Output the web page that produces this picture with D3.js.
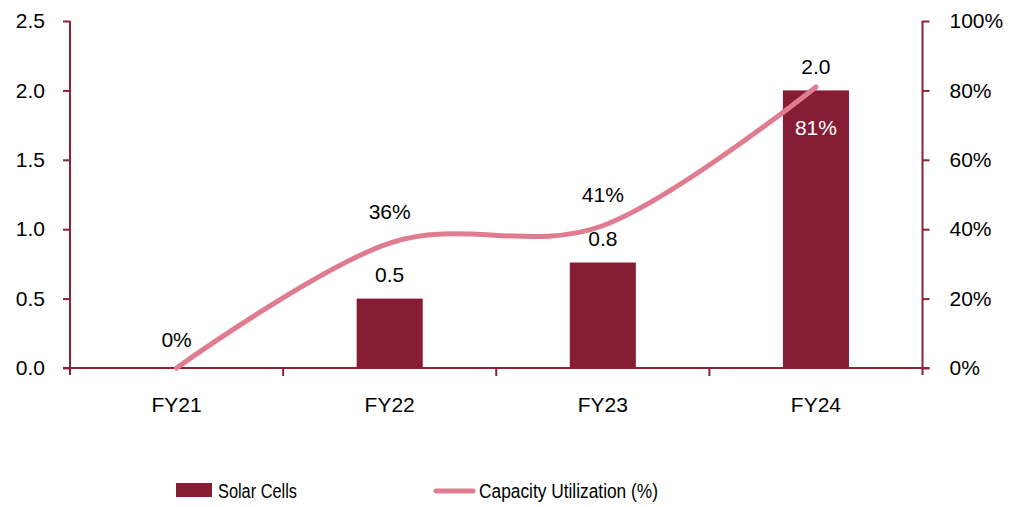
<!DOCTYPE html>
<html><head><meta charset="utf-8">
<script src="https://cdn.jsdelivr.net/npm/d3@7"></script>
<style>
html,body{margin:0;padding:0;background:#fff;}
svg{display:block;font-family:"Liberation Sans",Arial,sans-serif;}
</style></head>
<body>
<svg id="chart" width="1011" height="507"></svg>
<script>
const categories = ["FY21","FY22","FY23","FY24"];
const solarCells = [0, 0.5, 0.76, 2.0];
const solarLabels = ["", "0.5", "0.8", "2.0"];
const utilization = [0, 0.36, 0.41, 0.81];
const utilLabels = ["0%","36%","41%","81%"];
const leftTicks = [0, 0.5, 1.0, 1.5, 2.0, 2.5];
const rightTicks = [0, 0.2, 0.4, 0.6, 0.8, 1.0];
const legendLabels = ["Solar Cells", "Capacity Utilization (%)"];

const barColor = "#861D35";
const lineColor = "#E07C90";
const axisColor = "#8A2238";

const svg = d3.select("#chart");
const mLeft = 70, mRight = 922.5, mTop = 21, mBottom = 368;

const x = d3.scaleBand().domain(categories).range([mLeft, mRight]).paddingInner(0).paddingOuter(0);
const yL = d3.scaleLinear().domain([0, 2.5]).range([mBottom, mTop]);
const yR = d3.scaleLinear().domain([0, 1]).range([mBottom, mTop]);

const fs = 21;
const ff = "Liberation Sans, Arial, sans-serif";

// Left axis
const gL = svg.append("g").attr("transform", `translate(${mLeft},0)`)
  .call(d3.axisLeft(yL).tickValues(leftTicks).tickFormat(d3.format(".1f")).tickSize(7).tickPadding(18));
// Right axis
const gR = svg.append("g").attr("transform", `translate(${mRight},0)`)
  .call(d3.axisRight(yR).tickValues(rightTicks).tickFormat(d3.format(".0%")).tickSize(7).tickPadding(20));
[gL, gR].forEach(g => {
  g.select(".domain").attr("stroke", axisColor).attr("stroke-width", 2).attr("d", `M0,${mTop}V${mBottom + 7}`);
  g.selectAll(".tick line").attr("stroke", axisColor).attr("stroke-width", 2);
  g.selectAll(".tick text").attr("fill", "#000").attr("font-size", fs).attr("font-family", ff);
});

// Bottom axis
const gB = svg.append("g").attr("transform", `translate(0,${mBottom})`)
  .call(d3.axisBottom(x).tickSize(0).tickPadding(29));
gB.select(".domain").attr("stroke", axisColor).attr("stroke-width", 2).attr("d", `M${mLeft - 7},0H${mRight + 7}`);
gB.selectAll(".tick text").attr("fill", "#000").attr("font-size", fs).attr("font-family", ff);
// category boundary ticks
const bounds = categories.slice(1).map(c => x(c));
gB.selectAll(".bt").data(bounds).enter().append("line")
  .attr("x1", d => d).attr("x2", d => d).attr("y1", 0).attr("y2", 8)
  .attr("stroke", axisColor).attr("stroke-width", 2);

// Bars
const bw = x.bandwidth() * 0.31;
svg.append("g").selectAll("rect").data(solarCells).enter().append("rect")
  .attr("x", (d, i) => x(categories[i]) + x.bandwidth() / 2 - bw / 2)
  .attr("width", bw)
  .attr("y", d => yL(d))
  .attr("height", d => mBottom - yL(d))
  .attr("fill", barColor);

// Bar labels
svg.append("g").selectAll("text").data(solarCells).enter().append("text")
  .attr("x", (d, i) => x(categories[i]) + x.bandwidth() / 2)
  .attr("y", d => yL(d) - 24)
  .attr("dy", "0.35em")
  .attr("text-anchor", "middle").attr("font-size", fs).attr("fill", "#000")
  .text((d, i) => solarLabels[i]);

// Line
const pts = utilization.map((v, i) => [x(categories[i]) + x.bandwidth() / 2, yR(v)]);
svg.append("path").datum(pts)
  .attr("d", d3.line().curve(d3.curveCatmullRom.alpha(0)))
  .attr("fill", "none").attr("stroke", lineColor).attr("stroke-width", 5).attr("stroke-linecap", "round");

// Line labels
svg.append("g").selectAll("text").data(utilization).enter().append("text")
  .attr("x", (d, i) => x(categories[i]) + x.bandwidth() / 2)
  .attr("y", (d, i) => i === utilization.length - 1 ? yR(d) + 41 : yR(d) - (i === 0 ? 28 : 31))
  .attr("dy", "0.35em")
  .attr("text-anchor", "middle").attr("font-size", fs)
  .attr("fill", (d, i) => i === utilization.length - 1 ? "#fff" : "#000")
  .text((d, i) => utilLabels[i]);

// Legend
const lfs = 20;
const lg = svg.append("g");
lg.append("rect").attr("x", 176).attr("y", 483).attr("width", 36).attr("height", 14).attr("fill", barColor);
lg.append("text").attr("x", 218).attr("y", 491).attr("dy", "0.35em").attr("font-size", lfs)
  .attr("textLength", 79).attr("lengthAdjust", "spacingAndGlyphs").attr("fill", "#000").text(legendLabels[0]);
lg.append("line").attr("x1", 436).attr("x2", 473).attr("y1", 491).attr("y2", 491)
  .attr("stroke", lineColor).attr("stroke-width", 5).attr("stroke-linecap", "round");
lg.append("text").attr("x", 479).attr("y", 491).attr("dy", "0.35em").attr("font-size", lfs)
  .attr("textLength", 179).attr("lengthAdjust", "spacingAndGlyphs").attr("fill", "#000").text(legendLabels[1]);
</script>
</body></html>
